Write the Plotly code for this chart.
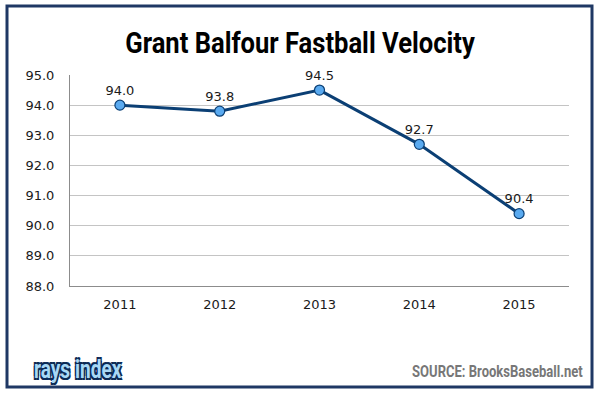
import plotly.graph_objects as go

years = ["2011", "2012", "2013", "2014", "2015"]
velocity = [94.0, 93.8, 94.5, 92.7, 90.4]
labels = ["94.0", "93.8", "94.5", "92.7", "90.4"]
y_ticks = [88, 89, 90, 91, 92, 93, 94, 95]
y_tick_text = ["88.0", "89.0", "90.0", "91.0", "92.0", "93.0", "94.0", "95.0"]

W, H = 600, 393
L, R, T, B = 70, 31, 75, 107
pw, ph = W - L - R, H - T - B

def px(x):
    return (x - L) / pw

def py(y):
    return (H - B - y) / ph

fig = go.Figure()
fig.add_trace(go.Scatter(
    x=years, y=velocity, mode="lines+markers+text",
    text=labels, textposition="top center",
    textfont=dict(family="DejaVu Sans", size=13, color="#1a1a1a"),
    line=dict(color="#0b3f74", width=3),
    marker=dict(size=10, color="#5aaaf0", line=dict(color="#0b3f74", width=1.2)),
    cliponaxis=False, showlegend=False,
))

fig.update_layout(
    width=W, height=H,
    margin=dict(l=L, r=R, t=T, b=B),
    paper_bgcolor="white", plot_bgcolor="white",
    title=dict(text="Grant Balfour Fastball Velocity",
               x=0.5, xanchor="center", y=1 - 43 / H, yanchor="middle",
               font=dict(family="Roboto", size=29, weight="bold", color="#000000")),
    xaxis=dict(type="category", range=[-0.5, 4.5], showgrid=False,
               showline=True, linecolor="#8c8c8c", linewidth=1,
               ticks="", ticklabelstandoff=6,
               tickfont=dict(family="DejaVu Sans", size=13, color="#1a1a1a"),
               fixedrange=True),
    yaxis=dict(range=[88, 95], tickvals=y_ticks, ticktext=y_tick_text,
               showgrid=True, gridcolor="#c4c4c4", gridwidth=1,
               showline=True, linecolor="#8c8c8c", linewidth=1,
               ticks="", ticklabelstandoff=12, zeroline=False,
               tickfont=dict(family="DejaVu Sans", size=13, color="#1a1a1a"),
               fixedrange=True),
    shapes=[dict(type="rect", xref="paper", yref="paper",
                 x0=px(7), x1=px(592), y0=py(387), y1=py(6),
                 line=dict(color="#1f3864", width=3), fillcolor="rgba(0,0,0,0)", layer="below")],
    annotations=[
        dict(text="SOURCE: BrooksBaseball.net", xref="paper", yref="paper",
             x=px(585), y=py(371), xanchor="right", yanchor="middle", showarrow=False,
             font=dict(family="Roboto", size=17, weight="bold", color="#777777")),
        dict(text="rays index", xref="paper", yref="paper",
             x=px(32), y=py(369), xanchor="left", yanchor="middle", showarrow=False,
             font=dict(family="Roboto", size=26, weight="bold", color="#a8d8f5",
                       shadow="1.5px 1.5px 0 #0b2a55, -1.5px -1.5px 0 #0b2a55, 1.5px -1.5px 0 #0b2a55, -1.5px 1.5px 0 #0b2a55")),
    ],
)

post = """
document.body.style.margin = '0';
var gd = document.getElementById('{plot_id}');
function squeeze(el, len, anchor) {
  if (!el) return;
  var bb = el.getBBox();
  if (!bb.width) return;
  var s = len / bb.width;
  var ax = bb.x + bb.width / 2;
  if (anchor === 'end') ax = bb.x + bb.width;
  if (anchor === 'start') ax = bb.x;
  var old = el.getAttribute('transform') || '';
  var t = 'translate(' + ax + ',0) scale(' + s + ',1) translate(' + (-ax) + ',0)';
  el.setAttribute('transform', (old + ' ' + t).trim());
}
squeeze(gd.querySelector('text.gtitle'), 350, 'middle');
var ann = gd.querySelectorAll('text.annotation-text');
if (ann.length > 0) squeeze(ann[0], 171, 'end');
if (ann.length > 1) squeeze(ann[1], 88, 'start');
"""

fig.write_html("out.html", post_script=post, config={"displayModeBar": False})
